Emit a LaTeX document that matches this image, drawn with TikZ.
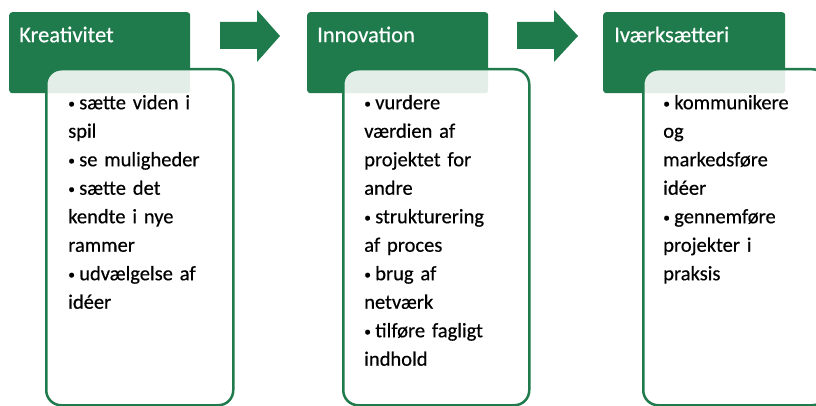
\documentclass[tikz,border=0pt]{standalone}
\usepackage{fontspec}
\setmainfont{Carlito}[FakeBold=0.4]
\usetikzlibrary{positioning}
\definecolor{kgreen}{HTML}{1F7A4C}
\newcommand{\punkt}[1]{\hangindent=11pt\hangafter=1\noindent\makebox[11pt][l]{\raisebox{1.3pt}{\fontsize{13.5}{13.5}\selectfont\textbullet}}#1\par}

\begin{document}
\begin{tikzpicture}[x=1pt,y=-1pt,
  header/.style={anchor=north west, fill=kgreen, rounded corners=3pt, text=white,
    font=\fontsize{22.5}{26}\selectfont, inner xsep=10pt, inner ysep=0pt,
    text width=161pt, align=left, text height=30pt, text depth=51pt},
  box/.style={anchor=north west, draw=kgreen, line width=2.5pt, rounded corners=15pt,
    fill=white, fill opacity=.88, text opacity=1, font=\fontsize{20.5}{28.5}\selectfont,
    inner xsep=22pt, inner ysep=0pt, text width=143pt, align=left,
    text height=40pt, text depth=296pt}]
\useasboundingbox (0,0) rectangle (816,406);
%\draw[step=50,blue!20,thin] (0,0) grid (816,406);
  % Draw headers
  \node (kreativ) [header] at (9,12) {Kreativitet};
  \node (innov)   [header] at (307,12) {Innovation};
  \node (ivaerk)  [header, inner xsep=11pt, text width=160pt] at (603,12) {Iværksætteri};
  % Draw arrows
  \fill[kgreen] (220,22) -- (257,22) -- (257,10) -- (280,36) -- (257,62) -- (257,49) -- (220,49) -- cycle;
  \fill[kgreen] (517,22) -- (554,22) -- (554,10) -- (578,36) -- (554,62) -- (554,49) -- (517,49) -- cycle;
  % Draw boxes
  \node (kreativliste) [box] at (45,68) {%
    \punkt{sætte viden i\\spil}
    \punkt{se muligheder}
    \punkt{sætte det\\kendte i nye\\rammer}
    \punkt{udvælgelse af\\idéer}};
  \node (innovliste) [box, inner xsep=21pt, text width=144pt] at (342,68) {%
    \punkt{vurdere\\værdien af\\projektet for\\andre}
    \punkt{strukturering\\af proces}
    \punkt{brug af\\netværk}
    \punkt{tilføre fagligt\\indhold}};
  \node (ivaerkliste) [box, inner xsep=20pt, text width=144pt] at (642,68) {%
    \punkt{kommunikere\\og\\markedsføre\\idéer}
    \punkt{gennemføre\\projekter i\\praksis}};
\end{tikzpicture}
\end{document}
